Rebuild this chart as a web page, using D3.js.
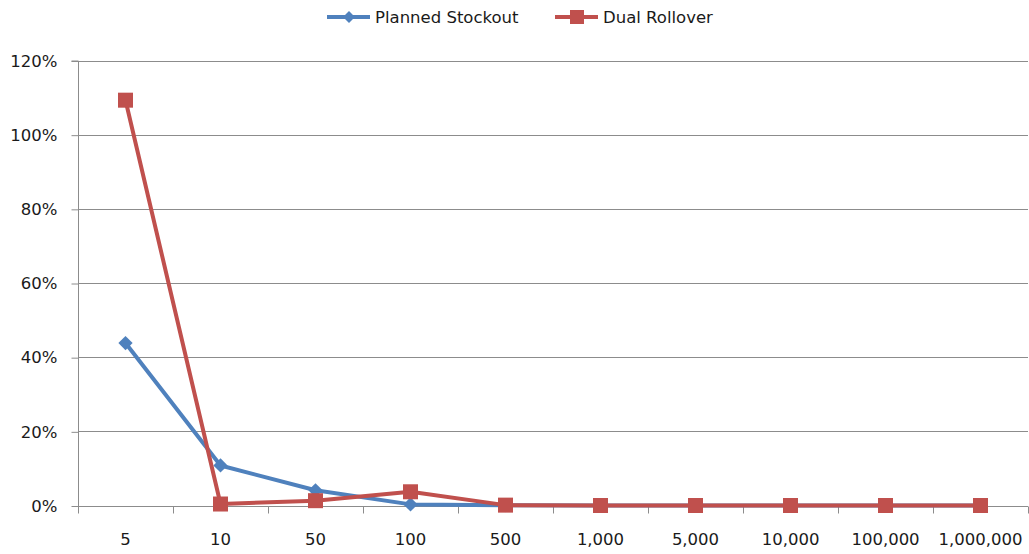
<!DOCTYPE html>
<html>
<head>
<meta charset="utf-8">
<script src="https://cdn.jsdelivr.net/npm/d3@7"></script>
<style>
  html, body { margin: 0; padding: 0; background: #fff; }
  svg text { font-family: "DejaVu Sans", Verdana, sans-serif; font-size: 16.5px; fill: #1a1a1a; }
</style>
</head>
<body>
<svg id="chart" width="1029" height="554"></svg>
<script>
// Order sizes along the horizontal axis
const categories = ["5", "10", "50", "100", "500", "1,000", "5,000", "10,000", "100,000", "1,000,000"];
// Percent values per series
const plannedStockout = [43.8, 10.8, 4.1, 0.3, 0.1, 0, 0, 0, 0, 0];
const dualRollover = [109.3, 0.4, 1.3, 3.7, 0.1, 0, 0, 0, 0, 0];
const yTicks = [0, 20, 40, 60, 80, 100, 120];
const seriesNames = ["Planned Stockout", "Dual Rollover"];

(function () {
  const blue = "#4F81BD", red = "#C0504D", grid = "#8c8c8c";
  const svg = d3.select("#chart");
  const plotLeft = 78, plotRight = 1028, plotTop = 60.5, plotBottom = 505.5;

  const x = d3.scaleBand().domain(categories).range([plotLeft, plotRight]);
  const y = d3.scaleLinear().domain([0, 120]).range([plotBottom, plotTop]);

  // gridlines
  svg.append("g").selectAll("line").data(yTicks.filter(d => d > 0)).join("line")
    .attr("x1", plotLeft).attr("x2", plotRight)
    .attr("y1", d => Math.round(y(d)) + 0.5).attr("y2", d => Math.round(y(d)) + 0.5)
    .attr("stroke", grid).attr("stroke-width", 1);

  // y axis
  const yAxis = svg.append("g").attr("transform", `translate(${plotLeft + 0.5},0.5)`)
    .call(d3.axisLeft(y).tickValues(yTicks).tickFormat(d => d + "%").tickSize(7).tickPadding(14));
  yAxis.select(".domain").attr("stroke", grid).attr("d", `M-7,${plotTop}H0V${plotBottom}`);
  yAxis.selectAll(".tick line").attr("stroke", grid);
  yAxis.selectAll("text").attr("font-size", null).attr("font-family", null).attr("fill", null);

  // x axis with ticks on band boundaries
  const xAxis = svg.append("g").attr("transform", `translate(0,${Math.round(plotBottom) + 0.5})`)
    .call(d3.axisBottom(x).tickSize(0).tickPadding(27));
  xAxis.select(".domain").attr("stroke", grid).attr("d", `M${plotLeft},0H${plotRight}`);
  xAxis.selectAll("text").attr("font-size", null).attr("font-family", null).attr("fill", null);
  xAxis.selectAll("line.bnd").data(d3.range(categories.length + 1)).join("line")
    .attr("class", "bnd")
    .attr("x1", i => Math.round(plotLeft + i * x.step()) + 0.5)
    .attr("x2", i => Math.round(plotLeft + i * x.step()) + 0.5)
    .attr("y1", 0).attr("y2", 7).attr("stroke", grid);

  const cx = d => x(d) + x.bandwidth() / 2;
  const line = d3.line().x(d => cx(d[0])).y(d => y(d[1]));

  function drawSeries(values, color, marker) {
    const pts = categories.map((c, i) => [c, values[i]]);
    svg.append("path").datum(pts).attr("d", line)
      .attr("fill", "none").attr("stroke", color).attr("stroke-width", 4)
      .attr("stroke-linejoin", "round");
    const g = svg.append("g");
    if (marker === "diamond") {
      g.selectAll("path").data(pts).join("path")
        .attr("d", d3.symbol(d3.symbolDiamond2, 130))
        .attr("transform", d => `translate(${cx(d[0])},${y(d[1])})`)
        .attr("fill", color);
    } else {
      g.selectAll("rect").data(pts).join("rect")
        .attr("x", d => cx(d[0]) - 7.5).attr("y", d => y(d[1]) - 7.5)
        .attr("width", 15).attr("height", 15).attr("fill", color);
    }
  }
  drawSeries(plannedStockout, blue, "diamond");
  drawSeries(dualRollover, red, "square");

  // legend
  const legend = [
    { name: seriesNames[0], color: blue, x: 327, marker: "diamond" },
    { name: seriesNames[1], color: red, x: 555, marker: "square" }
  ];
  const lg = svg.append("g").selectAll("g").data(legend).join("g")
    .attr("transform", d => `translate(${d.x},17)`);
  lg.append("line").attr("x1", 0).attr("x2", 43).attr("stroke", d => d.color).attr("stroke-width", 4);
  lg.filter(d => d.marker === "diamond").append("path")
    .attr("d", d3.symbol(d3.symbolDiamond2, 90)).attr("transform", "translate(22,0)")
    .attr("fill", d => d.color);
  lg.filter(d => d.marker === "square").append("rect")
    .attr("x", 15).attr("y", -7).attr("width", 14).attr("height", 14).attr("fill", d => d.color);
  lg.append("text").attr("x", 48).attr("dy", "0.35em").text(d => d.name);
})();
</script>
</body>
</html>
